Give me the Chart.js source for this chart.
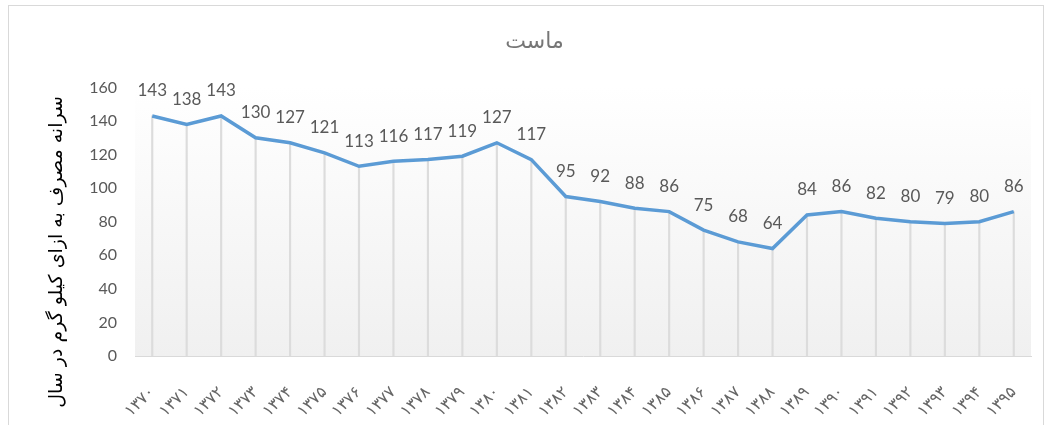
<!DOCTYPE html>
<html>
<head>
<meta charset="utf-8">
<script src="https://cdn.jsdelivr.net/npm/chart.js@4"></script>
<style>
  html, body { margin: 0; padding: 0; background: #fff; }
  #wrap { position: relative; width: 1050px; height: 425px; }
  #frame { position: absolute; left: 8px; top: 5px; width: 1036px; height: 430px; border: 1px solid #d9d9d9; box-sizing: border-box; }
  canvas { position: absolute; left: 0; top: 0; }
</style>
</head>
<body>
<div id="wrap">
  <div id="frame"></div>
  <canvas id="chart" width="1050" height="425"></canvas>
</div>
<script>
const years = ['۱۳۷۰', '۱۳۷۱', '۱۳۷۲', '۱۳۷۳', '۱۳۷۴', '۱۳۷۵', '۱۳۷۶', '۱۳۷۷', '۱۳۷۸', '۱۳۷۹',
    '۱۳۸۰', '۱۳۸۱', '۱۳۸۲', '۱۳۸۳', '۱۳۸۴', '۱۳۸۵', '۱۳۸۶', '۱۳۸۷', '۱۳۸۸', '۱۳۸۹',
    '۱۳۹۰', '۱۳۹۱', '۱۳۹۲', '۱۳۹۳', '۱۳۹۴', '۱۳۹۵'];
const consumption = [143, 138, 143, 130, 127, 121, 113, 116, 117, 119, 127, 117, 95, 92, 88, 86, 75, 68, 64, 84, 86, 82, 80, 79, 80, 86];
const chartTitle = 'ماست';
const yTitle = 'سرانه مصرف به ازای کیلو گرم در سال';

const plotBackground = {
    id: 'plotBackground',
    beforeDraw(chart) {
        const { ctx, chartArea: a } = chart;
        const g = ctx.createLinearGradient(0, a.top, 0, a.bottom);
        g.addColorStop(0, '#ffffff');
        g.addColorStop(1, '#f0f0f0');
        ctx.save();
        ctx.fillStyle = g;
        ctx.fillRect(a.left, a.top, a.right - a.left, a.bottom - a.top);
        ctx.restore();
    }
};

// value labels above each point + the y axis title (Excel centres it on the whole chart height)
const valueLabels = {
    id: 'valueLabels',
    afterDatasetsDraw(chart) {
        const { ctx } = chart;
        const meta = chart.getDatasetMeta(0);
        ctx.save();
        ctx.font = '17px Lato';
        ctx.fillStyle = '#595959';
        ctx.textAlign = 'center';
        ctx.textBaseline = 'middle';
        meta.data.forEach((pt, i) => {
            ctx.fillText(String(consumption[i]), pt.x, pt.y - 25);
        });
        ctx.restore();

        ctx.save();
        ctx.translate(57, 252);
        ctx.rotate(-Math.PI / 2);
        ctx.font = '19px "DejaVu Sans"';
        ctx.fillStyle = '#000000';
        ctx.textAlign = 'center';
        ctx.textBaseline = 'middle';
        ctx.fillText(yTitle, 0, 0);
        ctx.restore();
    }
};

new Chart(document.getElementById('chart'), {
    data: {
        labels: years,
        datasets: [
            {
                type: 'line',
                data: consumption,
                borderColor: '#5B9BD5',
                borderWidth: 3.5,
                pointRadius: 0,
                tension: 0,
                order: 0,
            },
            {
                type: 'bar',
                data: consumption,
                backgroundColor: '#dcdcdc',
                barThickness: 1.5,
                order: 1,
            }
        ]
    },
    options: {
        responsive: false,
        animation: false,
        layout: { padding: { left: 38, right: 19, top: 27, bottom: 9 } },
        plugins: {
            legend: { display: false },
            tooltip: { enabled: false },
            title: {
                display: true,
                text: chartTitle,
                color: '#767676',
                font: { size: 22, family: 'DejaVu Sans', weight: 'normal' },
                padding: { top: 2, bottom: 32 }
            }
        },
        scales: {
            x: {
                grid: { display: false },
                border: { color: '#d9d9d9', width: 1 },
                ticks: {
                    color: '#666666',
                    font: { size: 16, family: 'DejaVu Sans' },
                    minRotation: 45,
                    maxRotation: 45,
                    padding: 19,
                    autoSkip: false
                },
                afterFit(scale) { scale.height = 60; }
            },
            y: {
                min: 0,
                max: 160,
                grid: { display: false, drawTicks: false },
                border: { display: false },
                ticks: {
                    stepSize: 20,
                    color: '#595959',
                    font: { size: 16, family: 'Lato' },
                    padding: 18
                },
                afterFit(scale) { scale.width = 97; }
            }
        }
    },
    plugins: [plotBackground, valueLabels]
});
</script>
</body>
</html>
